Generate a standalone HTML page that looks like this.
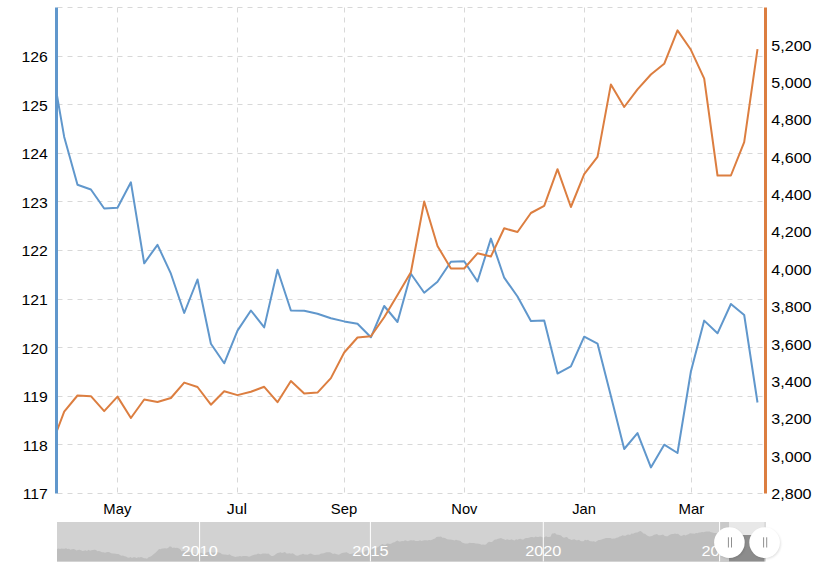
<!DOCTYPE html>
<html><head><meta charset="utf-8"><style>
html,body{margin:0;padding:0;background:#fff;width:828px;height:571px;overflow:hidden}
svg{display:block}
.t{font-family:"Liberation Sans",sans-serif;font-size:14px;fill:#000}
.w{font-family:"Liberation Sans",sans-serif;font-size:14px;fill:#fff}
</style></head><body>
<svg width="828" height="571" viewBox="0 0 828 571">
<defs><filter id="blur" x="-50%" y="-50%" width="200%" height="200%"><feGaussianBlur stdDeviation="1.2"/></filter>
<clipPath id="nclip"><rect x="57" y="522" width="708.8" height="39.5"/></clipPath></defs>
<line x1="57.5" y1="493.5" x2="763.5" y2="493.5" stroke="#d8d8d8" stroke-width="1" stroke-dasharray="5,5"/>
<line x1="57.5" y1="444.5" x2="763.5" y2="444.5" stroke="#d8d8d8" stroke-width="1" stroke-dasharray="5,5"/>
<line x1="57.5" y1="396.5" x2="763.5" y2="396.5" stroke="#d8d8d8" stroke-width="1" stroke-dasharray="5,5"/>
<line x1="57.5" y1="347.5" x2="763.5" y2="347.5" stroke="#d8d8d8" stroke-width="1" stroke-dasharray="5,5"/>
<line x1="57.5" y1="299.5" x2="763.5" y2="299.5" stroke="#d8d8d8" stroke-width="1" stroke-dasharray="5,5"/>
<line x1="57.5" y1="250.5" x2="763.5" y2="250.5" stroke="#d8d8d8" stroke-width="1" stroke-dasharray="5,5"/>
<line x1="57.5" y1="201.5" x2="763.5" y2="201.5" stroke="#d8d8d8" stroke-width="1" stroke-dasharray="5,5"/>
<line x1="57.5" y1="153.5" x2="763.5" y2="153.5" stroke="#d8d8d8" stroke-width="1" stroke-dasharray="5,5"/>
<line x1="57.5" y1="104.5" x2="763.5" y2="104.5" stroke="#d8d8d8" stroke-width="1" stroke-dasharray="5,5"/>
<line x1="57.5" y1="56.5" x2="763.5" y2="56.5" stroke="#d8d8d8" stroke-width="1" stroke-dasharray="5,5"/>
<line x1="57.5" y1="7.5" x2="763.5" y2="7.5" stroke="#d8d8d8" stroke-width="1" stroke-dasharray="5,5"/>
<line x1="117.5" y1="7.5" x2="117.5" y2="493.5" stroke="#d8d8d8" stroke-width="1" stroke-dasharray="5,5"/>
<line x1="237.5" y1="7.5" x2="237.5" y2="493.5" stroke="#d8d8d8" stroke-width="1" stroke-dasharray="5,5"/>
<line x1="344.5" y1="7.5" x2="344.5" y2="493.5" stroke="#d8d8d8" stroke-width="1" stroke-dasharray="5,5"/>
<line x1="464.5" y1="7.5" x2="464.5" y2="493.5" stroke="#d8d8d8" stroke-width="1" stroke-dasharray="5,5"/>
<line x1="584.5" y1="7.5" x2="584.5" y2="493.5" stroke="#d8d8d8" stroke-width="1" stroke-dasharray="5,5"/>
<line x1="691.5" y1="7.5" x2="691.5" y2="493.5" stroke="#d8d8d8" stroke-width="1" stroke-dasharray="5,5"/>
<polyline points="56.5,92.6 64.2,136.9 77.5,184.8 90.9,189.5 104.2,208.5 117.5,207.8 130.9,182.3 144.2,263.3 157.5,244.8 170.9,273.7 184.2,313.0 197.5,279.5 210.9,343.8 224.2,363.3 237.5,330.6 250.9,310.5 264.2,327.4 277.5,269.7 290.9,310.5 304.2,310.8 317.5,313.7 330.9,318.3 344.2,321.4 357.5,323.8 370.9,337.3 384.2,306.0 397.5,322.0 410.9,273.8 424.2,292.8 437.5,281.8 450.9,261.8 464.2,261.2 477.5,281.5 490.9,238.6 504.2,277.7 517.5,296.5 530.9,321.0 544.2,320.6 557.5,373.6 570.9,366.4 584.2,336.7 597.5,343.6 610.9,396.0 624.2,449.0 637.5,433.1 650.9,467.4 664.2,444.7 677.5,453.0 690.9,371.5 704.2,320.6 717.5,333.3 730.9,304.0 744.2,315.0 757.5,402.5" fill="none" stroke="#6097cc" stroke-width="2" stroke-linejoin="round"/>
<polyline points="56.5,432.0 64.2,411.6 77.5,395.5 90.9,396.2 104.2,411.1 117.5,396.6 130.9,418.0 144.2,399.5 157.5,402.0 170.9,398.0 184.2,382.6 197.5,387.0 210.9,404.7 224.2,391.2 237.5,395.1 250.9,391.8 264.2,386.8 277.5,402.2 290.9,381.0 304.2,393.5 317.5,392.6 330.9,378.1 344.2,352.5 357.5,337.5 370.9,336.2 384.2,317.2 397.5,295.1 410.9,272.3 424.2,201.5 437.5,246.0 450.9,268.5 464.2,268.5 477.5,253.3 490.9,256.5 504.2,228.3 517.5,232.0 530.9,213.0 544.2,205.8 557.5,169.2 570.9,207.0 584.2,174.2 597.5,156.9 610.9,84.4 624.2,107.0 637.5,89.4 650.9,74.5 664.2,63.8 677.5,30.4 690.9,49.8 704.2,78.7 717.5,175.5 730.9,175.5 744.2,142.2 757.5,49.2" fill="none" stroke="#dc7e40" stroke-width="2" stroke-linejoin="round"/>
<rect x="55" y="7.5" width="3" height="486.0" fill="#6097cc"/>
<rect x="764" y="7.5" width="3" height="486.0" fill="#dc7e40"/>
<text transform="translate(47.9,499.3) scale(1.13,1)" text-anchor="end" class="t">117</text>
<text transform="translate(47.9,450.7) scale(1.13,1)" text-anchor="end" class="t">118</text>
<text transform="translate(47.9,402.1) scale(1.13,1)" text-anchor="end" class="t">119</text>
<text transform="translate(47.9,353.5) scale(1.13,1)" text-anchor="end" class="t">120</text>
<text transform="translate(47.9,304.9) scale(1.13,1)" text-anchor="end" class="t">121</text>
<text transform="translate(47.9,256.3) scale(1.13,1)" text-anchor="end" class="t">122</text>
<text transform="translate(47.9,207.7) scale(1.13,1)" text-anchor="end" class="t">123</text>
<text transform="translate(47.9,159.1) scale(1.13,1)" text-anchor="end" class="t">124</text>
<text transform="translate(47.9,110.5) scale(1.13,1)" text-anchor="end" class="t">125</text>
<text transform="translate(47.9,61.9) scale(1.13,1)" text-anchor="end" class="t">126</text>
<text transform="translate(771.3,499.1) scale(1.15,1)" class="t">2,800</text>
<text transform="translate(771.3,461.7) scale(1.15,1)" class="t">3,000</text>
<text transform="translate(771.3,424.3) scale(1.15,1)" class="t">3,200</text>
<text transform="translate(771.3,386.9) scale(1.15,1)" class="t">3,400</text>
<text transform="translate(771.3,349.6) scale(1.15,1)" class="t">3,600</text>
<text transform="translate(771.3,312.2) scale(1.15,1)" class="t">3,800</text>
<text transform="translate(771.3,274.8) scale(1.15,1)" class="t">4,000</text>
<text transform="translate(771.3,237.4) scale(1.15,1)" class="t">4,200</text>
<text transform="translate(771.3,200.0) scale(1.15,1)" class="t">4,400</text>
<text transform="translate(771.3,162.6) scale(1.15,1)" class="t">4,600</text>
<text transform="translate(771.3,125.3) scale(1.15,1)" class="t">4,800</text>
<text transform="translate(771.3,87.9) scale(1.15,1)" class="t">5,000</text>
<text transform="translate(771.3,50.5) scale(1.15,1)" class="t">5,200</text>
<text transform="translate(117.3,514) scale(1.06,1)" text-anchor="middle" class="t">May</text>
<text transform="translate(236.9,514) scale(1.14,1)" text-anchor="middle" class="t">Jul</text>
<text transform="translate(344,514) scale(1.06,1)" text-anchor="middle" class="t">Sep</text>
<text transform="translate(464.4,514) scale(1.05,1)" text-anchor="middle" class="t">Nov</text>
<text transform="translate(584,514) scale(1.05,1)" text-anchor="middle" class="t">Jan</text>
<text transform="translate(691.3,514) scale(1.07,1)" text-anchor="middle" class="t">Mar</text>
<rect x="57" y="522" width="708.8" height="39.5" fill="#d2d2d2"/>
<polygon points="57,561.5 57.0,548.9 58.5,548.4 60.0,549.0 61.5,548.4 63.0,548.8 64.5,548.8 66.0,548.3 67.5,548.9 69.0,548.8 70.5,549.7 72.0,549.3 73.5,549.1 75.0,549.6 76.5,550.6 78.0,549.9 79.5,549.7 81.0,550.2 82.5,551.0 84.0,550.8 85.5,550.3 87.0,551.0 88.5,549.8 90.0,550.7 91.5,550.3 93.0,549.9 94.5,549.7 96.0,550.0 97.5,551.2 99.0,550.9 100.5,551.6 102.0,552.3 103.5,552.3 105.0,552.7 106.5,552.2 108.0,552.1 109.5,552.3 111.0,553.3 112.5,553.4 114.0,553.4 115.5,553.8 117.0,553.9 118.5,553.9 120.0,555.1 121.5,555.8 123.0,555.6 124.5,556.3 126.0,556.6 127.5,557.4 129.0,557.7 130.5,557.1 132.0,558.1 133.5,557.2 135.0,557.2 136.5,557.9 138.0,557.3 139.5,557.6 141.0,556.9 142.5,557.6 144.0,558.2 145.5,558.2 147.0,558.7 148.5,557.2 150.0,556.7 151.5,555.9 153.0,554.8 154.5,553.4 156.0,552.2 157.5,550.7 159.0,549.0 160.5,549.3 162.0,548.4 163.5,548.5 165.0,548.2 166.5,548.4 168.0,548.0 169.5,546.5 171.0,546.6 172.5,547.9 174.0,547.6 175.5,548.0 177.0,547.8 178.5,548.2 180.0,549.1 181.5,551.4 183.0,551.0 184.5,551.0 186.0,551.4 187.5,552.5 189.0,551.8 190.5,552.0 192.0,552.4 193.5,553.2 195.0,553.7 196.5,554.0 198.0,553.2 199.5,553.0 201.0,552.8 202.5,553.5 204.0,554.1 205.5,553.0 207.0,552.3 208.5,552.0 210.0,551.8 211.5,552.2 213.0,552.7 214.5,552.4 216.0,551.8 217.5,552.2 219.0,552.5 220.5,553.1 222.0,554.2 223.5,554.5 225.0,554.5 226.5,554.8 228.0,555.1 229.5,554.3 231.0,555.5 232.5,556.0 234.0,556.6 235.5,557.0 237.0,556.5 238.5,556.4 240.0,555.9 241.5,556.6 243.0,556.1 244.5,555.9 246.0,556.1 247.5,556.2 249.0,556.7 250.5,556.2 252.0,555.4 253.5,555.0 255.0,554.4 256.5,554.4 258.0,553.4 259.5,554.0 261.0,554.2 262.5,553.6 264.0,553.4 265.5,553.4 267.0,553.7 268.5,553.6 270.0,554.9 271.5,556.0 273.0,555.9 274.5,555.2 276.0,553.9 277.5,553.0 279.0,552.8 280.5,552.3 282.0,553.1 283.5,552.6 285.0,552.1 286.5,553.5 288.0,553.6 289.5,553.2 291.0,553.7 292.5,553.2 294.0,553.9 295.5,555.3 297.0,555.7 298.5,555.6 300.0,554.7 301.5,554.4 303.0,553.8 304.5,554.4 306.0,554.4 307.5,554.8 309.0,554.1 310.5,553.5 312.0,554.1 313.5,554.8 315.0,554.9 316.5,554.8 318.0,554.7 319.5,554.6 321.0,553.6 322.5,553.6 324.0,553.3 325.5,552.6 327.0,552.2 328.5,552.3 330.0,552.3 331.5,553.0 333.0,553.9 334.5,553.5 336.0,554.1 337.5,554.5 339.0,554.7 340.5,553.8 342.0,553.1 343.5,552.7 345.0,552.4 346.5,552.2 348.0,552.9 349.5,553.9 351.0,554.1 352.5,553.5 354.0,553.3 355.5,553.4 357.0,552.1 358.5,552.2 360.0,552.6 361.5,552.6 363.0,552.4 364.5,551.7 366.0,550.4 367.5,550.5 369.0,549.5 370.5,549.5 372.0,549.6 373.5,548.4 375.0,547.5 376.5,547.7 378.0,547.3 379.5,545.9 381.0,544.8 382.5,544.0 384.0,544.7 385.5,544.8 387.0,543.5 388.5,543.7 390.0,544.0 391.5,543.4 393.0,542.4 394.5,542.2 396.0,541.3 397.5,540.5 399.0,541.6 400.5,541.4 402.0,540.9 403.5,541.2 405.0,540.3 406.5,540.8 408.0,541.3 409.5,540.6 411.0,540.3 412.5,540.4 414.0,540.3 415.5,541.0 417.0,540.9 418.5,540.9 420.0,540.2 421.5,541.1 423.0,540.5 424.5,540.2 426.0,540.2 427.5,540.6 429.0,539.9 430.5,540.3 432.0,539.7 433.5,539.1 435.0,538.5 436.5,537.1 438.0,536.8 439.5,536.7 441.0,536.4 442.5,537.8 444.0,537.7 445.5,538.3 447.0,539.2 448.5,539.5 450.0,539.5 451.5,539.7 453.0,540.0 454.5,540.6 456.0,539.8 457.5,540.3 459.0,540.5 460.5,541.0 462.0,542.4 463.5,543.0 465.0,543.4 466.5,543.5 468.0,543.6 469.5,542.8 471.0,542.9 472.5,542.9 474.0,543.0 475.5,543.5 477.0,543.6 478.5,543.8 480.0,544.0 481.5,544.7 483.0,544.5 484.5,544.7 486.0,544.4 487.5,542.7 489.0,541.8 490.5,541.9 492.0,541.9 493.5,540.5 495.0,539.6 496.5,539.5 498.0,538.7 499.5,538.5 501.0,538.0 502.5,538.7 504.0,539.3 505.5,540.0 507.0,539.2 508.5,539.7 510.0,540.0 511.5,539.3 513.0,540.1 514.5,540.5 516.0,539.3 517.5,539.8 519.0,539.0 520.5,538.7 522.0,539.4 523.5,539.5 525.0,538.3 526.5,538.0 528.0,537.9 529.5,537.5 531.0,537.0 532.5,536.9 534.0,537.5 535.5,536.5 537.0,536.9 538.5,537.1 540.0,536.5 541.5,536.8 543.0,537.5 544.5,537.3 546.0,536.2 547.5,537.1 549.0,537.1 550.5,536.7 552.0,533.6 553.5,533.4 555.0,533.0 556.5,534.4 558.0,534.8 559.5,535.0 561.0,535.6 562.5,537.0 564.0,537.7 565.5,537.3 567.0,537.1 568.5,538.7 570.0,539.2 571.5,539.9 573.0,539.5 574.5,539.3 576.0,540.2 577.5,540.3 579.0,539.8 580.5,541.1 582.0,541.2 583.5,541.2 585.0,539.7 586.5,540.3 588.0,539.8 589.5,541.1 591.0,541.3 592.5,541.4 594.0,541.3 595.5,541.9 597.0,540.9 598.5,540.0 600.0,540.1 601.5,539.5 603.0,538.9 604.5,538.6 606.0,538.1 607.5,538.0 609.0,538.0 610.5,538.0 612.0,538.8 613.5,538.4 615.0,538.4 616.5,537.8 618.0,537.6 619.5,536.6 621.0,536.2 622.5,535.3 624.0,535.8 625.5,535.7 627.0,534.7 628.5,534.4 630.0,534.9 631.5,533.5 633.0,533.7 634.5,532.9 636.0,532.4 637.5,532.4 639.0,531.4 640.5,530.9 642.0,532.0 643.5,533.6 645.0,533.7 646.5,535.1 648.0,535.9 649.5,536.6 651.0,536.3 652.5,535.7 654.0,534.8 655.5,534.4 657.0,534.1 658.5,535.3 660.0,535.2 661.5,535.0 663.0,534.6 664.5,535.7 666.0,536.3 667.5,536.2 669.0,535.3 670.5,534.6 672.0,534.1 673.5,534.0 675.0,533.5 676.5,533.9 678.0,533.8 679.5,535.1 681.0,535.9 682.5,535.5 684.0,534.7 685.5,535.4 687.0,534.7 688.5,534.2 690.0,533.3 691.5,533.4 693.0,533.5 694.5,533.7 696.0,533.1 697.5,533.3 699.0,532.5 700.5,532.4 702.0,532.0 703.5,532.3 705.0,531.8 706.5,531.4 708.0,531.6 709.5,531.6 711.0,532.2 712.5,532.4 714.0,532.9 715.5,533.0 717.0,533.2 718.5,533.6 720.0,532.9 720.0,532.5 729,532.5 729,561.5" fill="#bdbdbd"/>
<rect x="720" y="522" width="9" height="39.5" fill="#c9c9c9"/>
<rect x="729" y="522" width="35.5" height="39.5" fill="#e8e8e8"/>
<rect x="729" y="535" width="35.5" height="26.5" fill="#8c8c8c"/>
<rect x="199.1" y="522" width="1" height="39.5" fill="#ffffff"/>
<rect x="369.9" y="522" width="1" height="39.5" fill="#ffffff"/>
<rect x="542.8" y="522" width="1" height="39.5" fill="#ffffff"/>
<rect x="719.1" y="522" width="1" height="39.5" fill="#ffffff"/>
<text transform="translate(199.6,556) scale(1.165,1)" text-anchor="middle" class="w">2010</text>
<text transform="translate(370.4,556) scale(1.165,1)" text-anchor="middle" class="w">2015</text>
<text transform="translate(543.3,556) scale(1.165,1)" text-anchor="middle" class="w">2020</text>
<text transform="translate(719.6,556) scale(1.165,1)" text-anchor="middle" class="w">2025</text>
<circle cx="730.1999999999999" cy="543.8" r="15.3" fill="rgba(0,0,0,0.12)" filter="url(#blur)"/>
<circle cx="729.4" cy="542.6" r="15.3" fill="#ffffff"/>
<rect x="727.9" y="537.3" width="1" height="10.2" fill="#8f8f8f"/>
<rect x="731.0" y="537.3" width="1" height="10.2" fill="#8f8f8f"/>
<circle cx="765.4" cy="543.8" r="15.3" fill="rgba(0,0,0,0.12)" filter="url(#blur)"/>
<circle cx="764.6" cy="542.6" r="15.3" fill="#ffffff"/>
<rect x="763.1" y="537.3" width="1" height="10.2" fill="#8f8f8f"/>
<rect x="766.2" y="537.3" width="1" height="10.2" fill="#8f8f8f"/>
</svg>
</body></html>
